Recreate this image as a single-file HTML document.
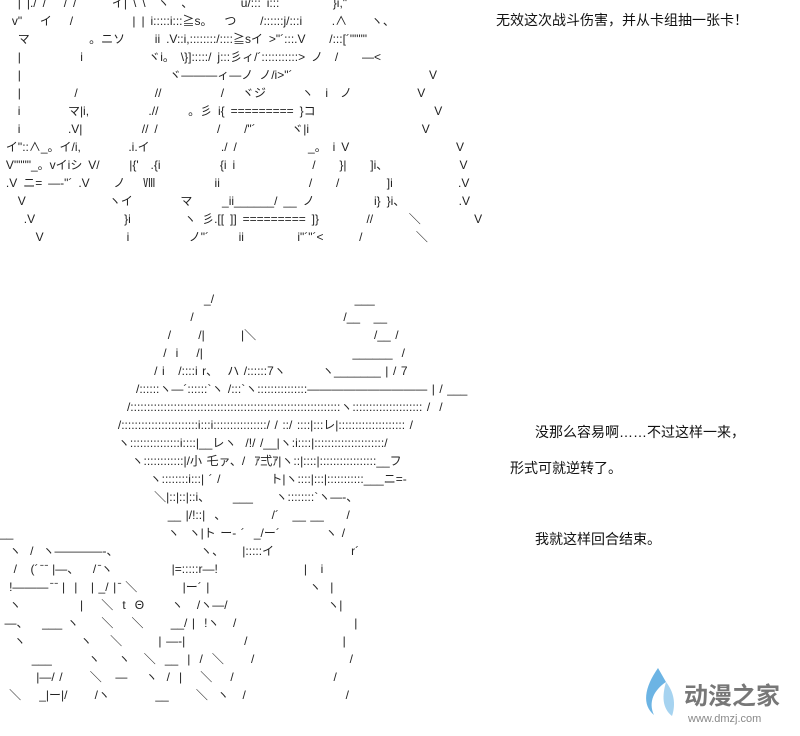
<!DOCTYPE html>
<html><head><meta charset="utf-8"><style>
html,body{margin:0;padding:0;background:#fff;}
body{width:800px;height:736px;position:relative;overflow:hidden;font-family:"Liberation Sans","Noto Sans CJK SC",sans-serif;color:#111;}
pre{position:absolute;margin:0;font-family:"Liberation Sans","Noto Sans CJK JP",sans-serif;font-size:12px;line-height:18px;color:#222;white-space:pre;}
.t{position:absolute;font-size:14px;color:#111;white-space:nowrap;}
</style></head><body>
<pre style="left:0;top:-6px;word-spacing:2.6px;">
   | |./ /   / /      イ| \ \  ヽ  、        u/::: i:::         }i,"´
  v"   イ   /          | | i:::::i:::≧s。  つ    /::::::j/:::i     .∧    ヽ、
   マ          。ニソ     ii .V::i,::::::::/::::≧sイ >"´:::.V    /:::[´""""
   |          i           ヾi。 \}]:::::/ j:::彡ィ/´:::::::::::> ノ  /    ―<
   |                         ヾ―――ィ―ノ ノ/i>"´                       V
   |         /             //          /   ヾジ      ヽ  i  ノ           V
   i        マ|i,          .//     。彡 i{ ========= }コ                    V
   i        .V|          // /          /    /"´      ヾ|i                   V
 イ"::∧_。イ/i,        .i.イ            ./ /            _。 i V                  V
 V""""_。vイiシ V/     |{'  .{i          {i i             /    }|    ]i、            V
 .V ニ= ―‐"´ .V    ノ   Ⅷ          ii               /    /        ]i           .V
   V              ヽイ        マ     _ii______/ __ ノ          i} }i、         .V
    .V               }i         ヽ 彡.[[ ]] ========= ]}        //      ＼         V
      V              i          ノ"´     ii         i"´"´<      /         ＼
</pre>
<pre style="left:0;top:290px;word-spacing:1.2px;">
                                             _/                               ___
                                          /                                 /__   __
                                     /      /|        |＼                          /__ /
                                    /  i    /|                                 ______  /
                                  / i   /::::i r、  ハ /::::::7ヽ        ヽ_______ | / 7
                              /::::::ヽ―´::::::`ヽ /:::`ヽ:::::::::::::::―――――――――― | / ___
                            /:::::::::::::::::::::::::::::::::::::::::::::::::::::::::::::::ヽ::::::::::::::::::::: /  /
                          /:::::::::::::::::::::::i:::i::::::::::::::::/ / ::/ ::::|:::レ|:::::::::::::::::::: /
                          ヽ:::::::::::::::i::::|__レヽ  /!/ /__|ヽ:i::::|:::::::::::::::::::::/
                             ヽ::::::::::::|/小 乇ァ、/  ｱ弍ｱ|ヽ::|::::|:::::::::::::::::__フ
                                 ヽ::::::::i:::| ´ /           ト|ヽ::::|:::|:::::::::::___ニ=‐
                                  ＼|::|::|::i、     ___     ヽ::::::::`ヽ―-、
                                     __ |/!::|  、          /´   __ __     /
__                                  ヽ  ヽ|ト ー‐ ´  _/ー´          ヽ /
  ヽ  /  ヽ――――-、                  ヽ、    |:::::イ                 r´
   /   (´ ̄ ̄ |―、   / ̄ヽ             |=:::::r―!                   |   i
  !――― ̄ ̄ |  |   | _/ | ̄ ＼          |ー´ |                      ヽ  |
  ヽ             |    ＼  t  Θ      ヽ   /ヽ―/                      ヽ|
 ―、   ___ ヽ     ＼    ＼      __/ |  !ヽ   /                          |
   ヽ            ヽ    ＼        | ―-|             /                     |
       ___        ヽ    ヽ   ＼  __  |  /  ＼      /                     /
        |―/ /      ＼   ―    ヽ  /  |    ＼    /                      /
  ＼    _|ー|/      /ヽ          __      ＼  ヽ   /                      /
</pre>
<div class="t" style="left:496px;top:10px;">无效这次战斗伤害，并从卡组抽一张卡！</div>
<div class="t" style="left:535px;top:422px;">没那么容易啊……不过这样一来，</div>
<div class="t" style="left:510px;top:458px;">形式可就逆转了。</div>
<div class="t" style="left:535px;top:529px;">我就这样回合结束。</div>
<svg style="position:absolute;left:636px;top:660px" width="160" height="70">
<path d="M22 8 C8 28 6 45 18 55 C12 42 18 30 30 22 Z" fill="#6cb4e4"/>
<path d="M30 22 C26 36 26 48 36 56 C40 44 38 32 30 22 Z" fill="#a6d3f0"/>
<text x="48" y="44" font-family="Noto Sans CJK SC,sans-serif" font-size="24" fill="#777" font-weight="bold">动漫之家</text>
<text x="52" y="62" font-family="Liberation Sans,sans-serif" font-size="11" fill="#888">www.dmzj.com</text>
</svg>
</body></html>
